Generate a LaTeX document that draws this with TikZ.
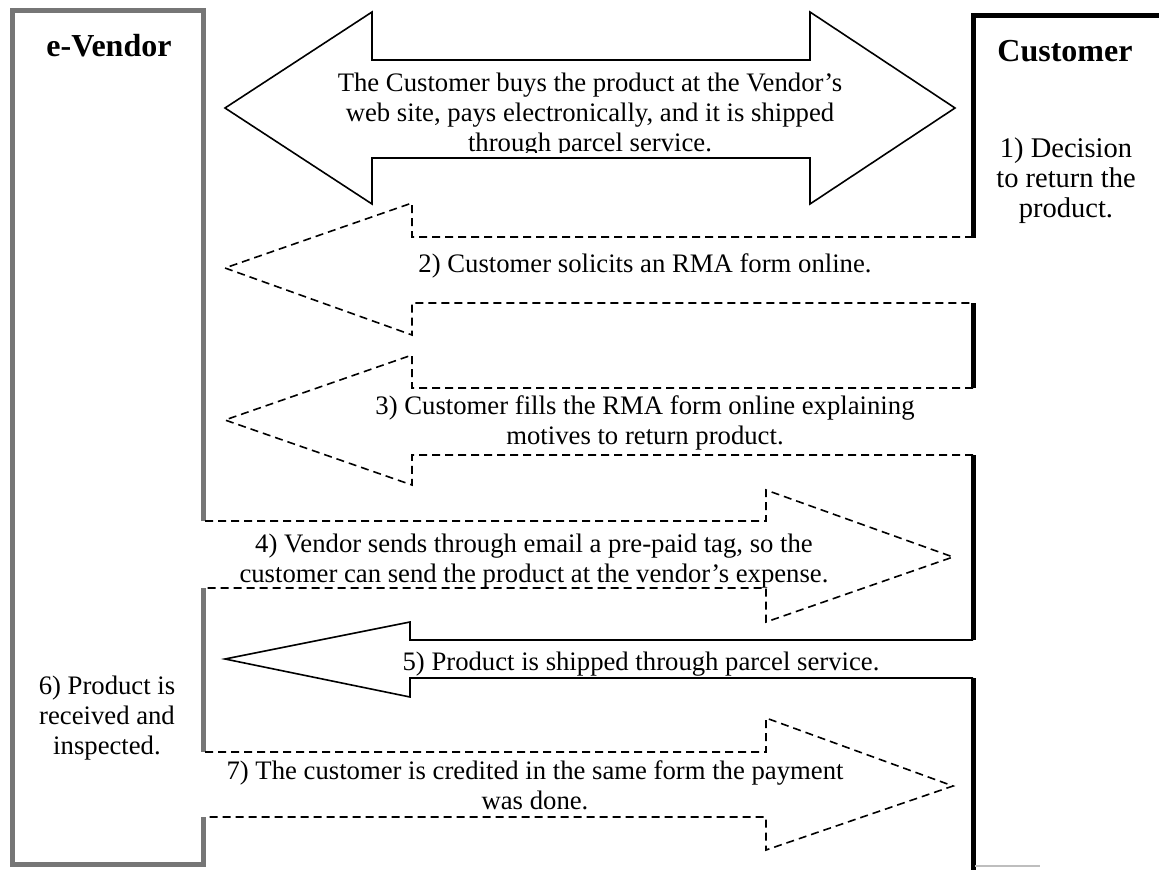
\documentclass[tikz,border=0pt]{standalone}
\usepackage{fontspec}
\setmainfont{Liberation Serif}
\definecolor{vgray}{RGB}{118,118,118}
\definecolor{lgray}{RGB}{190,190,190}
\begin{document}
\begin{tikzpicture}[x=1pt,y=-1pt,
  arrowsolid/.style={draw=black, line width=1.6pt, line join=miter},
  arrowdash/.style={draw=black, line width=1.6pt, dash pattern=on 8pt off 5pt},
  vendoredge/.style={draw=vgray, line width=5pt},
  custedge/.style={draw=black, line width=5pt},
  lbl/.style={font=\fontsize{26.7}{30}\selectfont, align=center, inner sep=0pt, anchor=base},
  clbl/.style={font=\fontsize{28.5}{30}\selectfont, align=center, inner sep=0pt, anchor=base},
  head/.style={font=\bfseries\fontsize{32}{36}\selectfont, inner sep=0pt, anchor=base}]
\useasboundingbox[fill=white] (0,0) rectangle (1159,870);

% e-Vendor box
\draw[vendoredge] (203,521) -- (203,10.5) -- (12.5,10.5) -- (12.5,864) -- (203,864) -- (203,817);
\draw[vendoredge] (203,588) -- (203,752);
% Customer box
\draw[custedge] (1159,15.5) -- (973,15.5) -- (973,238);
\draw[custedge] (973,303) -- (973,388);
\draw[custedge] (973,455) -- (973,640);
\draw[custedge] (973,678) -- (973,870);
\draw[draw=lgray, line width=2pt] (975,866) -- (1040,866);

% labels (anchor = baseline of the last line)
\node[head] (vendor) at (109,56) {e-Vendor};
\node[head] (customer) at (1065,61) {Customer};
\node[clbl] (decision) at (1066,217) {1) Decision\\to return the\\product.};
\begin{scope}
\clip (300,0) rectangle (900,152);
\node[lbl] (buy) at (590,151) {The Customer buys the product at the Vendor’s\\web site, pays electronically, and it is shipped\\through parcel service.};
\end{scope}
\node[lbl] (solicit) at (645,272) {2) Customer solicits an RMA form online.};
\node[lbl] (fill) at (645,444) {3) Customer fills the RMA form online explaining\\motives to return product.};
\node[lbl] (tag) at (534,582) {4) Vendor sends through email a pre-paid tag, so the\\customer can send the product at the vendor’s expense.};
\node[lbl] (ship) at (641,670) {5) Product is shipped through parcel service.};
\node[lbl] (inspect) at (107,754) {6) Product is\\received and\\inspected.};
\node[lbl] (credit) at (535,809) {7) The customer is credited in the same form the payment\\was done.};

% arrows
\draw[arrowsolid] (225,108) -- (372,12) -- (372,60) -- (810,60) -- (810,12) -- (955,108)
  -- (810,204) -- (810,158) -- (372,158) -- (372,204) -- cycle;
\draw[arrowdash] (973,237) -- (412,237) -- (412,203) -- (225,268) -- (412,335) -- (412,303) -- (973,303);
\draw[arrowdash] (973,388) -- (412,388) -- (412,355) -- (225,420) -- (412,485) -- (412,455) -- (973,455);
\draw[arrowdash] (205,521) -- (766,521) -- (766,490) -- (953,557) -- (766,622) -- (766,588) -- (205,588);
\draw[arrowsolid] (973,640) -- (410,640) -- (410,622) -- (225,659) -- (410,697) -- (410,678) -- (973,678);
\draw[arrowdash] (205,752) -- (766,752) -- (766,718) -- (953,786) -- (766,850) -- (766,817) -- (205,817);
\end{tikzpicture}
\end{document}
